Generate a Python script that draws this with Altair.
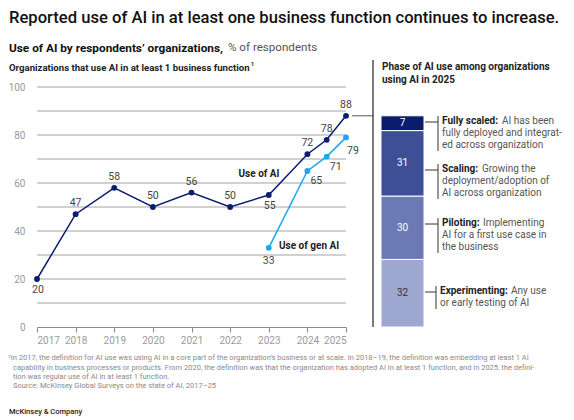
import altair as alt
import pandas as pd
import numpy as np

# ---------------- data ----------------
ai_years = [2017, 2018, 2019, 2020, 2021, 2022, 2023, 2024, 2024.5, 2025]
ai_values = [20, 47, 58, 50, 56, 50, 55, 72, 78, 88]
gen_years = [2023, 2024, 2024.5, 2025]
gen_values = [33, 65, 71, 79]
year_ticks = [2017, 2018, 2019, 2020, 2021, 2022, 2023, 2024, 2025]
y_ticks = [0, 20, 40, 60, 80, 100]
grid_values = [10, 20, 30, 40, 50, 60, 70, 80, 90, 100]

phases = ["Experimenting", "Piloting", "Scaling", "Fully scaled"]
phase_values = [32, 30, 31, 7]
phase_bold = ["Experimenting:", "Piloting:", "Scaling:", "Fully scaled:"]
phase_first = ["Any use", "Implementing", "Growing the", "AI has been"]
phase_rest = [
    ["or early testing of AI"],
    ["AI for a first use case in", "the business"],
    ["deployment/adoption of", "AI across organization"],
    ["fully deployed and integrat-", "ed across organization"],
]
ai_share_2025 = 88

title_text = "Reported use of AI in at least one business function continues to increase."
sub_bold = "Use of AI by respondents\u2019 organizations,"
sub_reg = "% of respondents"
left_head = "Organizations that use AI in at least 1 business function"
right_head = ["Phase of AI use among organizations", "using AI in 2025"]
foot_lines = [
    "\u00b9In 2017, the definition for AI use was using AI in a core part of the organization\u2019s business or at scale. In 2018\u201319, the definition was embedding at least 1 AI",
    "capability in business processes or products. From 2020, the definition was that the organization has adopted AI in at least 1 function, and in 2025, the defini-",
    "tion was regular use of AI in at least 1 function.",
    "Source: McKinsey Global Surveys on the state of AI, 2017\u201325",
]
brand = "McKinsey & Company"

# ---------------- styles ----------------
FONT = "Roboto"
NAVY = "#0a1d6e"
AZURE = "#1ba7ee"
PHASE_COLORS = ["#9da7cf", "#6b79b4", "#3e4f96", "#0b1c6c"]
GRID = "#a3a3a3"
W, H = 309, 240
SP = 27
RW = 190

ai_df = pd.DataFrame({"year": ai_years, "value": ai_values})
gen_df = pd.DataFrame({"year": gen_years, "value": gen_values})
grid_df = pd.DataFrame({"value": grid_values})

xenc = alt.X("year:Q", scale=alt.Scale(domain=[2017, 2025], nice=False, zero=False),
             axis=alt.Axis(values=year_ticks, format="d", title=None, grid=False,
                           domainColor="#8a8a8a", tickColor="#8a8a8a", tickSize=5,
                           labelColor="#9a9a9a", labelFontSize=10, labelFont=FONT,
                           labelPadding=3))
yenc = alt.Y("value:Q", scale=alt.Scale(domain=[0, 100], nice=False),
             axis=alt.Axis(values=y_ticks, title=None, grid=False, domain=False, ticks=False,
                           labelColor="#9a9a9a", labelFontSize=10, labelFont=FONT,
                           labelPadding=12))


def txt(text, x, y, size=9, weight="normal", color="#222", align="left"):
    return alt.Chart(pd.DataFrame({"t": [text]})).mark_text(
        font=FONT, fontSize=size, fontWeight=weight, color=color, align=align,
        baseline="middle").encode(x=alt.value(x), y=alt.value(y), text="t:N")


OX, OY = 36, 87  # page position of the left plot origin (used only for text placement)

grid = alt.Chart(grid_df).mark_rule(color=GRID, strokeWidth=1).encode(
    y=yenc, x=alt.value(0), x2=alt.value(W))
ai_line = alt.Chart(ai_df).mark_line(color=NAVY, strokeWidth=1.5).encode(x=xenc, y=yenc)
ai_pts = alt.Chart(ai_df).mark_circle(color=NAVY, size=34, opacity=1).encode(x=xenc, y=yenc)
gen_line = alt.Chart(gen_df).mark_line(color=AZURE, strokeWidth=1.5).encode(x=xenc, y=yenc)
gen_pts = alt.Chart(gen_df).mark_circle(color=AZURE, size=34, opacity=1).encode(x=xenc, y=yenc)

lab = dict(font=FONT, fontSize=10.5, color="#444")
ai_above = alt.Chart(ai_df).transform_filter(
    "datum.year != 2017 && datum.year != 2023").mark_text(dy=-11, **lab).encode(
    x=xenc, y=yenc, text="value:Q")
ai_below = alt.Chart(ai_df).transform_filter(
    "datum.year == 2017 || datum.year == 2023").mark_text(dy=11, dx=1, **lab).encode(
    x=xenc, y=yenc, text="value:Q")
gen_below = alt.Chart(gen_df).transform_filter("datum.year == 2023").mark_text(
    dy=13, **lab).encode(x=xenc, y=yenc, text="value:Q")
gen_right = alt.Chart(gen_df).transform_filter(
    "datum.year > 2023 && datum.year < 2025").mark_text(dy=10, dx=9, **lab).encode(
    x=xenc, y=yenc, text="value:Q")
gen_last = alt.Chart(gen_df).transform_filter("datum.year == 2025").mark_text(
    dy=14, dx=7, **lab).encode(x=xenc, y=yenc, text="value:Q")

connector = alt.Chart(pd.DataFrame({"value": [ai_share_2025]})).mark_rule(
    color="#555", strokeWidth=1).encode(y=yenc, x=alt.value(W + 6), x2=alt.value(W + SP))

series_ai = txt("Use of AI", 258 - OX, 174 - OY, size=10, weight="bold", color="#222", align="center")
series_gen = txt("Use of gen AI", 278 - OX, 246 - OY, size=10, weight="bold", color="#222")

head_layers = [
    txt(title_text, 8 - OX, 18 - OY, size=16.6, weight=500, color="#111"),
    txt(sub_bold, 8 - OX, 48 - OY, size=11.8, weight="bold", color="#111"),
    txt(sub_reg, 227 - OX, 48 - OY, size=11.6, weight="normal", color="#555"),
    txt(left_head, 8 - OX, 68 - OY, size=9.6, weight="bold", color="#222"),
    txt("1", 250 - OX, 64 - OY, size=5.5, weight="bold", color="#222"),
]
foot_x = [7, 12, 12, 12]
foot_y = [358, 368, 377, 386]
foot_layers = [txt(t, fx - OX, fy - OY, size=7.5, color="#8a8a8a")
               for t, fx, fy in zip(foot_lines, foot_x, foot_y)]
foot_layers.append(txt(brand, 8 - OX, 412 - OY, size=7.5, weight=500, color="#222"))

left = alt.layer(grid, ai_line, gen_line, ai_pts, gen_pts, ai_above, ai_below,
                 gen_below, gen_right, gen_last, connector, series_ai, series_gen,
                 *head_layers, *foot_layers).properties(width=W, height=H)

# ---------------- right panel ----------------
vals = np.array(phase_values, dtype=float)
scaled = vals * ai_share_2025 / 100.0
ends = np.cumsum(scaled)
starts = ends - scaled
bar_df = pd.DataFrame({"phase": phases, "pct": phase_values, "y0": starts, "y1": ends,
                       "mid": (starts + ends) / 2, "col": "2025"})

RX = 372  # page x of the right view origin (used only for text placement)
bx = alt.X("col:N", scale=alt.Scale(range=[8, 51], paddingInner=0, paddingOuter=0), axis=None)
by_scale = alt.Scale(domain=[0, 100], nice=False)

bars = alt.Chart(bar_df).mark_bar(stroke="white", strokeWidth=1).encode(
    x=bx, y=alt.Y("y0:Q", scale=by_scale, axis=None), y2="y1:Q",
    color=alt.Color("phase:N", scale=alt.Scale(domain=phases, range=PHASE_COLORS), legend=None))
bar_text = alt.Chart(bar_df).mark_text(font=FONT, fontSize=10).encode(
    x=bx, y=alt.Y("mid:Q", scale=by_scale, axis=None), text="pct:Q",
    color=alt.condition("datum.phase == 'Experimenting'", alt.value("#333"), alt.value("white")))

sep = alt.Chart(pd.DataFrame({"a": [0]})).mark_rule(color="#222", strokeWidth=1.2).encode(
    x=alt.value(0), y=alt.value(60 - OY), y2=alt.value(H))

right_layers = [sep, bars, bar_text,
                txt(right_head[0], 381 - RX, 67 - OY, size=10, weight="bold", color="#222"),
                txt(right_head[1], 381 - RX, 80 - OY, size=10, weight="bold", color="#222")]

anchor_y = [291, 223, 169, 121]       # page y of first text line per phase
bold_w = [71, 41, 40, 60]             # width reserved for the bold lead-in
text_x = [439, 441, 441, 441]
LH = 12
for i in range(len(phases)):
    a = anchor_y[i] - OY
    n = 1 + len(phase_rest[i])
    tx = text_x[i] - RX
    right_layers.append(alt.Chart(pd.DataFrame({"a": [0]})).mark_rule(color="#333").encode(
        x=alt.value(52), x2=alt.value(tx - 4), y=alt.value(a + 1)))
    right_layers.append(alt.Chart(pd.DataFrame({"a": [0]})).mark_rule(color="#333").encode(
        x=alt.value(tx - 4), y=alt.value(a - 5), y2=alt.value(a + (n - 1) * LH + 6)))
    right_layers.append(txt(phase_bold[i], tx, a, size=10, weight="bold", color="#222"))
    right_layers.append(txt(phase_first[i], tx + bold_w[i], a, size=10, color="#555"))
    for j, line in enumerate(phase_rest[i]):
        right_layers.append(txt(line, tx, a + (j + 1) * LH, size=10, color="#555"))

right = alt.layer(*right_layers).properties(width=RW, height=H)

chart = alt.hconcat(left, right, spacing=SP, bounds="flush").properties(
    padding={"left": 0, "top": 2, "right": 0, "bottom": 0},
    background="white").configure_view(stroke=None)

chart.save("out.html", embed_options={"renderer": "svg", "actions": False})
